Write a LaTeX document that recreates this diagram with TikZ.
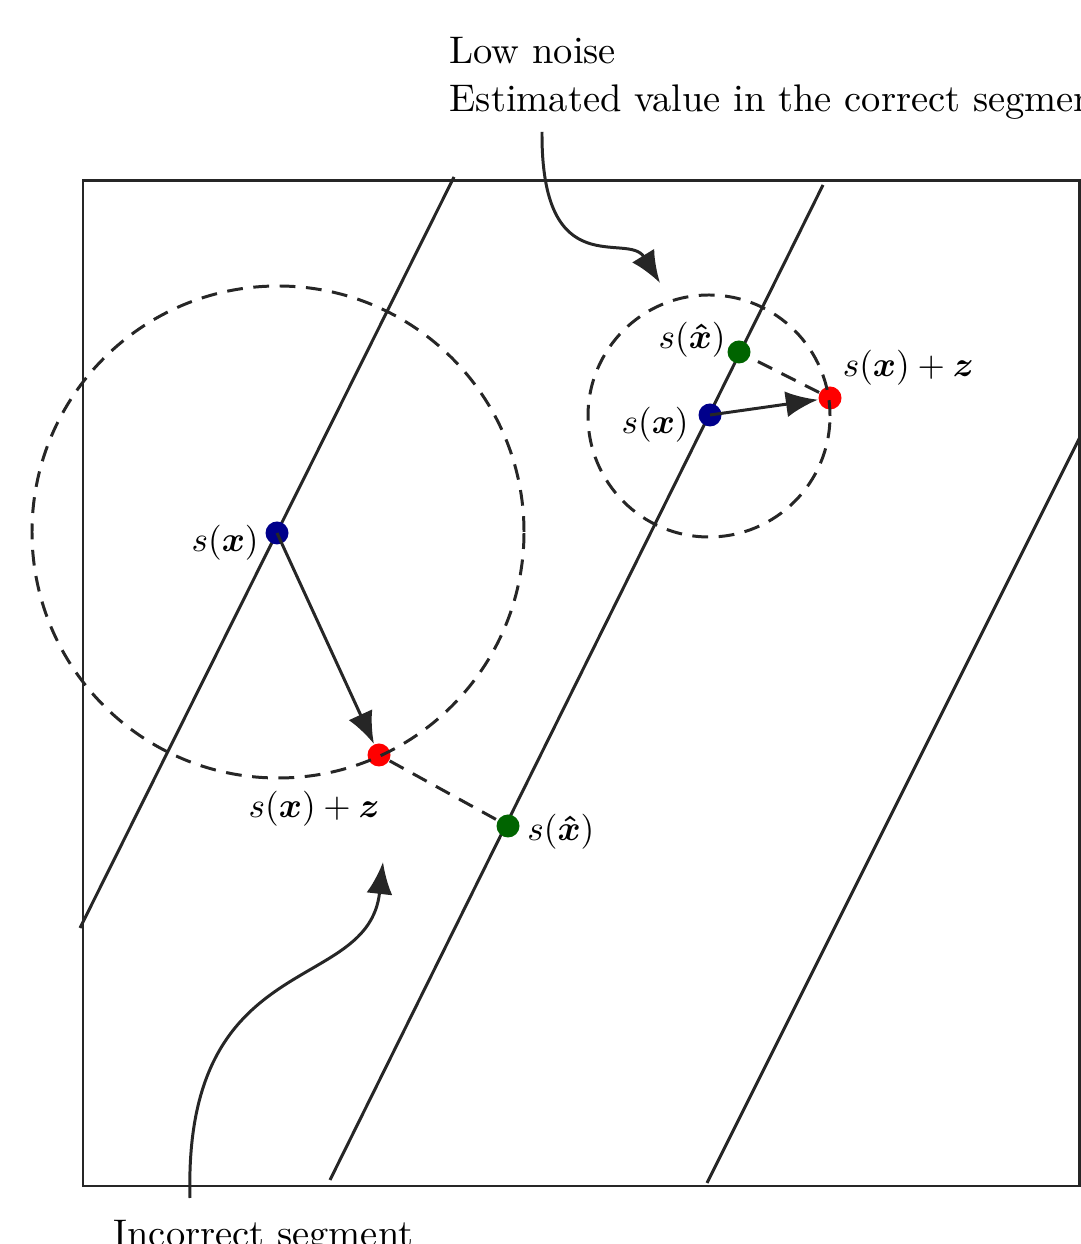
\documentclass[tikz,border=0pt,11pt]{standalone}
\usepackage{amsmath,amssymb}
\usetikzlibrary{positioning,arrows.meta}
\definecolor{ptblue}{RGB}{0,0,139}
\definecolor{ptgreen}{RGB}{0,100,0}
\definecolor{ptred}{RGB}{255,0,0}

\begin{document}
\begin{tikzpicture}[
  line/.style={line width=0.85pt,black!85},
  ring/.style={line width=0.85pt,black!85,dash pattern=on 4.5pt off 3pt},
  pt/.style={circle,inner sep=0pt,minimum size=2.3mm},
  lbl/.style={inner sep=1pt,font=\fontsize{10.4pt}{12.5pt}\selectfont},
  tip/.style={-{Latex[length=3.2mm,width=2.6mm]}}
]
\useasboundingbox (-0.83,-0.58) rectangle (9.98,11.86);

% Frame and segment borders
\draw[line] (0,0) rectangle (9.96,10.05);
\draw[line] (-0.03,2.58) -- (3.71,10.09);
\draw[line] (2.47,0.06) -- (7.40,10.01);
\draw[line] (6.24,0.03) -- (9.98,7.51);

% High noise: lands in the wrong segment
\node[pt,fill=ptblue] (xa) at (1.94,6.53) {};
\node[pt,fill=ptred] (za) at (2.96,4.31) {};
\node[pt,fill=ptgreen] (ha) at (4.25,3.60) {};
\draw[ring] (1.95,6.54) circle (2.46);
\draw[ring] (za) -- (ha);
\draw[line,tip] (xa.center) -- (za);
\node[lbl,left=0.02 of xa,yshift=-1mm] {$s(\boldsymbol{x})$};
\node[lbl,below left=0.235 and -0.135 of za] {$s(\boldsymbol{x})+\boldsymbol{z}$};
\node[lbl,right=0.03 of ha,yshift=-0.6mm] {$s(\boldsymbol{\hat{x}})$};

% Low noise: stays in the correct segment
\node[pt,fill=ptblue] (xb) at (6.27,7.71) {};
\node[pt,fill=ptred] (zb) at (7.47,7.88) {};
\node[pt,fill=ptgreen] (hb) at (6.56,8.34) {};
\draw[ring] (6.26,7.70) circle (1.21);
\draw[ring] (zb) -- (hb);
\draw[line,tip] (xb.center) -- (zb);
\node[lbl,left=-0.03 of hb,yshift=1.2mm] {$s(\boldsymbol{\hat{x}})$};
\node[lbl,left=0.05 of xb,yshift=-1mm] {$s(\boldsymbol{x})$};
\node[lbl,above right=0 of zb] {$s(\boldsymbol{x})+\boldsymbol{z}$};

% Callouts
\node[inner sep=0pt,anchor=north west,align=left] (lowtxt) at (3.66,11.49)
  {Low noise\\Estimated value in the correct segment};
\coordinate (lowstart) at (4.59,10.54);
\coordinate (lowend) at (5.77,9.03);
\draw[line,tip] (lowstart) .. controls (4.58,9.0) and (5.45,9.55) .. (lowend);

\node[inner sep=0pt,anchor=north west] (badtxt) at (0.30,-0.34) {Incorrect segment};
\coordinate (badstart) at (1.07,-0.12);
\coordinate (badend) at (3.00,3.24);
\draw[line,tip] (badstart) .. controls (1.0,2.4) and (2.85,1.9) .. (badend);
\end{tikzpicture}
\end{document}
